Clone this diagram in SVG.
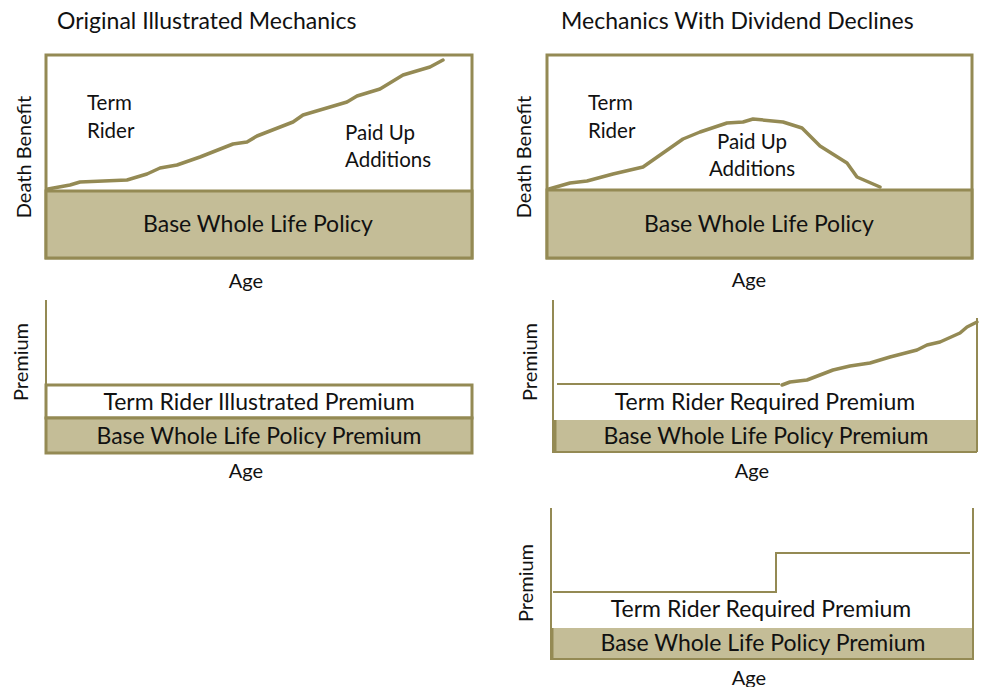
<svg xmlns="http://www.w3.org/2000/svg" width="984" height="687" viewBox="0 0 984 687">
<style>
.t{font-family:Lato,"Open Sans","Liberation Sans",sans-serif;fill:#111;}
.title{font-size:23px;}
.lbl{font-size:20.5px;}
.base{font-size:23px;}
.ax{font-size:20px;}
.frame{fill:#fff;stroke:#948a54;stroke-width:3;}
.fill{fill:#c4bd97;stroke:#948a54;stroke-width:3;}
.fillns{fill:#c4bd97;stroke:none;}
.curve{fill:none;stroke:#948a54;stroke-width:3.5;stroke-linejoin:round;stroke-linecap:round;}
.axis{fill:none;stroke:#948a54;stroke-width:2;}
.thin{fill:none;stroke:#948a54;stroke-width:2;}
</style>
<rect width="984" height="687" fill="#fff"/>

<text class="t title" x="57" y="29">Original Illustrated Mechanics</text>
<text class="t title" x="561" y="29">Mechanics With Dividend Declines</text>

<g id="chart-original-db">
<rect class="frame" x="46" y="55" width="426" height="203"/>
<rect class="fill" x="46" y="191" width="426" height="67"/>
<path class="curve" d="M48,189 L70,185 L80,182 L127,180 L147,174 L160,168 L177,165 L200,157 L233,144 L247,142 L257,136 L293,122 L303,115 L347,102 L357,96 L380,89 L403,75 L430,67 L443,60"/>
<text class="t lbl" x="87" y="110">Term</text>
<text class="t lbl" x="87" y="138">Rider</text>
<text class="t lbl" x="345" y="140">Paid Up</text>
<text class="t lbl" x="345" y="167">Additions</text>
<text class="t base" x="258" y="232" text-anchor="middle">Base Whole Life Policy</text>
<text class="t ax" x="246" y="288" text-anchor="middle">Age</text>
<text class="t ax" transform="translate(31,157) rotate(-90)" text-anchor="middle">Death Benefit</text>
</g>

<g id="chart-decline-db">
<rect class="frame" x="547" y="55" width="425" height="203"/>
<rect class="fill" x="547" y="190" width="425" height="68"/>
<path class="curve" d="M549,189 L570,183 L587,181 L613,174 L643,167 L663,153 L683,139 L700,132 L727,123 L743,122 L753,119 L783,122 L802,128 L820,146 L847,163 L857,177 L880,187"/>
<text class="t lbl" x="588" y="110">Term</text>
<text class="t lbl" x="588" y="138">Rider</text>
<text class="t lbl" x="752" y="149" text-anchor="middle">Paid Up</text>
<text class="t lbl" x="752" y="176" text-anchor="middle">Additions</text>
<text class="t base" x="759" y="232" text-anchor="middle">Base Whole Life Policy</text>
<text class="t ax" x="749" y="287" text-anchor="middle">Age</text>
<text class="t ax" transform="translate(531,157) rotate(-90)" text-anchor="middle">Death Benefit</text>
</g>

<g id="chart-original-premium">
<line class="axis" x1="46" y1="300" x2="46" y2="386"/>
<rect class="frame" x="46" y="385" width="426" height="33"/>
<rect class="fill" x="46" y="418" width="426" height="35"/>
<text class="t base" x="259" y="410" text-anchor="middle">Term Rider Illustrated Premium</text>
<text class="t base" x="259" y="444" text-anchor="middle">Base Whole Life Policy Premium</text>
<text class="t ax" x="246" y="478" text-anchor="middle">Age</text>
<text class="t ax" transform="translate(28,362) rotate(-90)" text-anchor="middle">Premium</text>
</g>

<g id="chart-decline-premium">
<rect class="fillns" x="553" y="420" width="424" height="32"/>
<path class="thin" d="M553,300 L553,452 L977,452"/>
<line x1="555" y1="420" x2="555" y2="452" stroke="#948a54" stroke-width="3"/>
<line class="axis" x1="977" y1="318" x2="977" y2="452"/>
<line class="thin" x1="557" y1="384" x2="780" y2="384"/>
<path class="curve" d="M782,385 L790,382 L807,380 L833,370 L850,366 L870,363 L890,357 L917,350 L927,345 L940,342 L960,333 L967,327 L977,322"/>
<text class="t base" x="765" y="410" text-anchor="middle">Term Rider Required Premium</text>
<text class="t base" x="766" y="444" text-anchor="middle">Base Whole Life Policy Premium</text>
<text class="t ax" x="752" y="478" text-anchor="middle">Age</text>
<text class="t ax" transform="translate(537,362) rotate(-90)" text-anchor="middle">Premium</text>
</g>

<g id="chart-decline-step-premium">
<rect class="fillns" x="551" y="628" width="422" height="30"/>
<path class="thin" d="M551,508 L551,659 L973,659 L973,508"/>
<line x1="552" y1="628" x2="552" y2="659" stroke="#948a54" stroke-width="3"/>
<path class="thin" d="M553,592 L776,592 L776,553 L970,553"/>
<text class="t base" x="761" y="617" text-anchor="middle">Term Rider Required Premium</text>
<text class="t base" x="763" y="651" text-anchor="middle">Base Whole Life Policy Premium</text>
<text class="t ax" x="749" y="685" text-anchor="middle">Age</text>
<text class="t ax" transform="translate(533,583) rotate(-90)" text-anchor="middle">Premium</text>
</g>
</svg>
